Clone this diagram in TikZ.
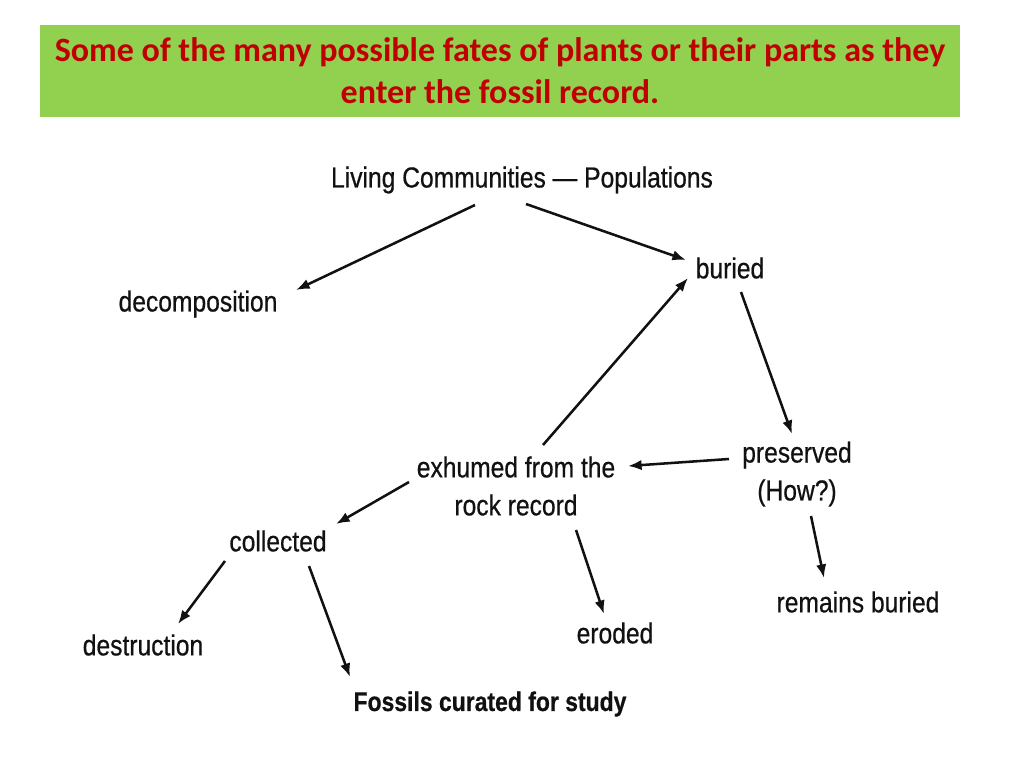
\documentclass[tikz,border=0pt]{standalone}
\usepackage{fontspec}
\setmainfont{Liberation Sans}[FakeStretch=0.85, FakeBold=0.6]
\newfontfamily\titlefont{Carlito}
\usepackage{tikz}
\usetikzlibrary{arrows.meta}
\definecolor{fateGreen}{HTML}{92D050}
\definecolor{fateRed}{HTML}{C00000}
\definecolor{fateInk}{HTML}{111111}

\begin{document}
\begin{tikzpicture}[x=0.025cm, y=-0.025cm, >={Latex[length=3.4mm, width=2.6mm]},
  fate/.style={font=\fontsize{20.6}{27}\selectfont, text=fateInk, inner sep=0pt, align=center},
  arr/.style={->, line width=1.8pt, fateInk}]
\useasboundingbox (0,0) rectangle (1024,768);
% ---- heading
\node[fill=fateGreen, minimum width=920*0.025cm, minimum height=92*0.025cm, inner sep=0pt,
      text=fateRed, align=center, font=\titlefont\bfseries\fontsize{24.2}{30}\selectfont]
  (title) at (500,71) {Some of the many possible fates of plants or their parts as they\\enter the fossil record.};
% ---- states
\node[fate] (living)    at (522,180) {Living Communities --- Populations};
\node[fate] (decomp)    at (198,304) {decomposition};
\node[fate] (buried)    at (730,268) {buried};
\node[fate] (exhumed)   at (516,486) {exhumed from the\\rock record};
\node[fate] (preserved) at (797,474) {preserved\\(How?)};
\node[fate] (collected) at (278,541) {collected};
\node[fate] (destruct)  at (143,645) {destruction};
\node[fate] (eroded)    at (615,633) {eroded};
\node[fate] (remains)   at (858,602) {remains buried};
\node[fate, font=\bfseries\fontsize{19.2}{27}\selectfont] (curated) at (490,704) {Fossils curated for study};
% ---- paths
\draw[arr] ([shift={(-47,25)}]living.center)    -- ([shift={(98,-14)}]decomp.center);
\draw[arr] ([shift={(4,24)}]living.center)      -- ([shift={(-44,-8)}]buried.center);
\draw[arr] ([shift={(27,-41)}]exhumed.center)   -- ([shift={(-42,10)}]buried.center);
\draw[arr] ([shift={(11,24)}]buried.center)     -- ([shift={(-5,-40)}]preserved.center);
\draw[arr] ([shift={(-68,-15)}]preserved.center) -- ([shift={(112,-20)}]exhumed.center);
\draw[arr] ([shift={(-107,-4)}]exhumed.center)  -- ([shift={(58,-17)}]collected.center);
\draw[arr] ([shift={(60,44)}]exhumed.center)    -- ([shift={(-11,-19)}]eroded.center);
\draw[arr] ([shift={(14,42)}]preserved.center)  -- ([shift={(-34,-24)}]remains.center);
\draw[arr] ([shift={(-53,20)}]collected.center) -- ([shift={(35,-21)}]destruct.center);
\draw[arr] ([shift={(31,25)}]collected.center)  -- ([shift={(-140,-27)}]curated.center);
\end{tikzpicture}
\end{document}
